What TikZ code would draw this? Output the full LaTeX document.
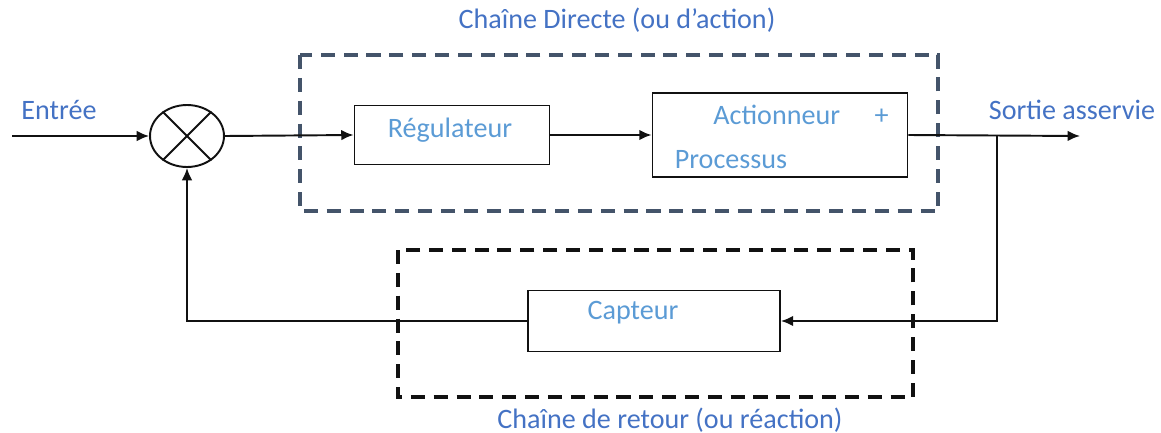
\documentclass[tikz,border=0pt]{standalone}
\usepackage{fontspec}
\setmainfont{Carlito}
\usepackage{xcolor}
\usetikzlibrary{arrows.meta,shapes.geometric,positioning}
\definecolor{Ink}{HTML}{111111}
\definecolor{Slate}{HTML}{44546A}
\definecolor{Label}{HTML}{4472C4}
\definecolor{BoxText}{HTML}{5B9BD5}

\tikzset{
  bloc/.style={draw=Ink,line width=1.1pt,rectangle,inner sep=0pt},
  fil/.style={Ink,line width=1.1pt},
  zone/.style={line width=1.8pt,dash pattern=on 8pt off 5pt},
  legende/.style={Label,font=\fontsize{16}{19}\selectfont},
  texte/.style={BoxText,font=\fontsize{16}{19}\selectfont}
}

\begin{document}
\begin{tikzpicture}[x=0.02cm,y=-0.02cm,>={Latex[length=7pt,width=6pt]}]
  \useasboundingbox (0,0) rectangle (1161,433);

  % comparateur
  \node[draw=Ink,line width=1.1pt,ellipse,minimum width=1.48cm,minimum height=1.24cm,inner sep=0pt] (sum) at (187,136) {};
  \draw[fil] (sum.45) -- (sum.225);
  \draw[fil] (sum.135) -- (sum.315);

  % blocs
  \node[bloc,minimum width=3.9cm,minimum height=1.18cm] (reg) at (452,135) {};
  \node[texte] at (450,130) {Régulateur};
  \node[bloc,minimum width=5.1cm,minimum height=1.68cm] (act) at (780,135) {};
  \node[texte] (actA) at (801,115) {Actionneur\quad\ +};
  \node[texte] (actB) at (731,160) {Processus};
  \node[bloc,minimum width=5.04cm,minimum height=1.22cm] (cap) at (654,321) {};
  \node[texte] at (633,313) {Capteur};

  % zones en pointilles
  \draw[zone,Slate] (300,55) rectangle (938,211);
  \draw[zone,Ink] (398,250) rectangle (913,397);
  \node[legende] at (617,20) {Chaîne Directe (ou d’action)};
  \node[legende] at (670,420) {Chaîne de retour (ou réaction)};

  % signaux
  \coordinate (in) at (12,136);
  \coordinate (out) at (1080,136);
  \coordinate (br) at (997,136);
  \node[legende] at (59,110) {Entrée};
  \node[legende] at (1072,110) {Sortie asservie};

  \draw[fil,->] (in) -- (sum.west);
  \draw[fil,->] (sum.east) -- (reg.west);
  \draw[fil,->] (reg.east) -- (act.west);
  \draw[fil,->] (act.east) -- (out);
  \draw[fil,->] (br) |- (cap.east);
  \draw[fil,->] (cap.west) -| (sum.south);
\end{tikzpicture}
\end{document}
